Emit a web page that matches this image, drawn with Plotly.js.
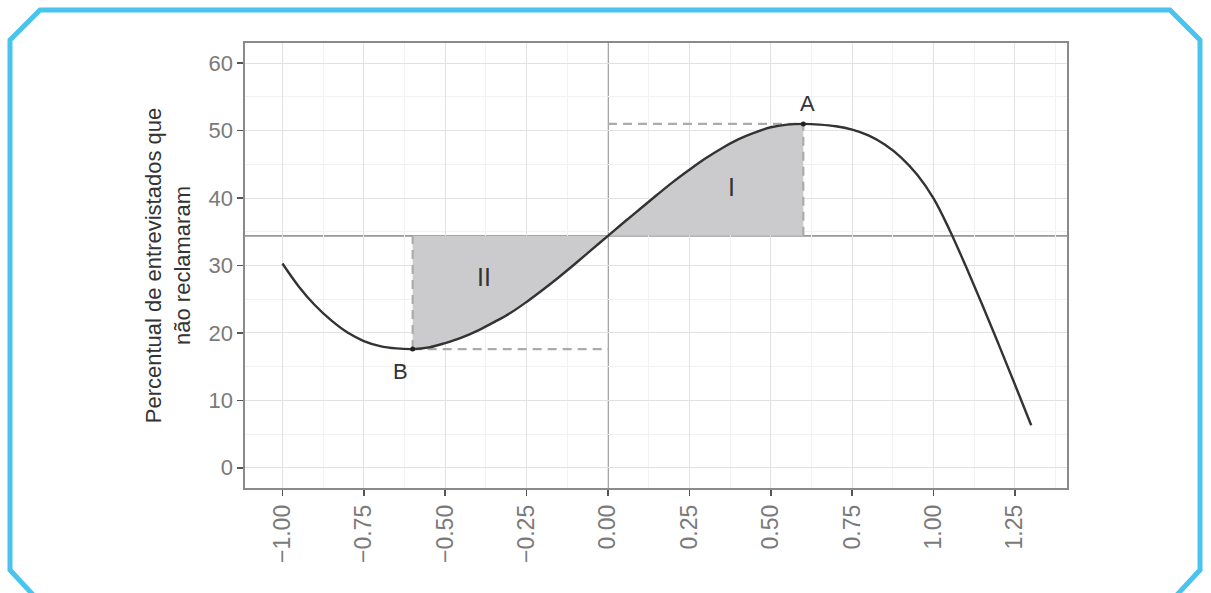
<!DOCTYPE html>
<html>
<head>
<meta charset="utf-8">
<script src="https://cdn.plot.ly/plotly-3.0.1.min.js"></script>
<style>
html,body{margin:0;padding:0;background:#fff;}
#graph{width:1211px;height:593px;}
</style>
</head>
<body>
<div id="graph"></div>
<script>
// curve (every 0.05)
let curveX = [-1.00,-0.95,-0.90,-0.85,-0.80,-0.75,-0.70,-0.65,-0.60,
  -0.55,-0.50,-0.45,-0.40,-0.35,-0.30,-0.25,-0.20,-0.15,-0.10,-0.05,0.00,
  0.05,0.10,0.15,0.20,0.25,0.30,0.35,0.40,0.45,0.50,0.55,0.60,
  0.65,0.70,0.75,0.80,0.85,0.90,0.95,1.00,1.05,1.10,1.15,1.20,1.25,1.30];
let curveY = [30.3,26.9,24.1,21.85,20.05,18.8,18.05,17.7,17.6,
  17.85,18.5,19.3,20.35,21.6,22.95,24.6,26.4,28.3,30.3,32.35,34.4,
  36.45,38.45,40.45,42.4,44.2,45.9,47.4,48.7,49.7,50.5,50.9,51.0,
  50.9,50.65,50.15,49.3,47.95,46.05,43.45,39.95,35.2,29.8,24.15,18.3,12.35,6.3];

let base = 34.4;          // value at x = 0
let pointA = [0.6, 51.0];
let pointB = [-0.6, 17.6];

let xTicks = [-1,-0.75,-0.5,-0.25,0,0.25,0.5,0.75,1,1.25];
let xTickText = ['\u22121.00','\u22120.75','\u22120.50','\u22120.25','0.00','0.25','0.50','0.75','1.00','1.25'];
let yTicks = [0,10,20,30,40,50,60];

// shaded regions built from the curve
function region(x0, x1){
    let xs = [], ys = [];
    for(let i=0;i<curveX.length;i++){
        if(curveX[i] >= x0-1e-9 && curveX[i] <= x1+1e-9){
            xs.push(curveX[i]);
            ys.push(curveY[i]);
        }
    }
    xs.push(x1); ys.push(base);
    xs.push(x0); ys.push(base);
    return {x:xs, y:ys};
}
let regI = region(0, pointA[0]);
let regII = region(pointB[0], 0);

let dashGray = {color:'#ababab', width:2.2, dash:'9px,6px'};

let traces = [
{
x:regI.x, y:regI.y, mode:'lines', fill:'toself',
fillcolor:'#cbcbcd', line:{width:0}, hoverinfo:'skip'
},
{
x:regII.x, y:regII.y, mode:'lines', fill:'toself',
fillcolor:'#cbcbcd', line:{width:0}, hoverinfo:'skip'
},
{
x:[0, pointA[0]], y:[pointA[1], pointA[1]], mode:'lines', line:dashGray
},
{
x:[pointA[0], pointA[0]], y:[base, pointA[1]], mode:'lines', line:dashGray
},
{
x:[pointB[0], 0], y:[pointB[1], pointB[1]], mode:'lines', line:dashGray
},
{
x:[pointB[0], pointB[0]], y:[pointB[1], base], mode:'lines', line:dashGray
},
{
x:curveX, y:curveY, mode:'lines',
line:{color:'#333333', width:2.4, shape:'spline', smoothing:1}
},
{
x:[pointA[0], pointB[0]], y:[pointA[1], pointB[1]], mode:'markers',
marker:{color:'#222', size:5}
}
];

// cyan frame, pixel -> paper
const L = 245, R = 1067, T = 43, B = 488;
const px = X => (X - L) / (R - L);
const py = Y => (B - Y) / (B - T);
let framePts = [[36,598],[10,570],[10,40],[40,10],[1170,10],[1200,40],[1200,570],[1174,598]];
let framePath = framePts.map((p,i)=>(i?'L ':'M ')+px(p[0])+' '+py(p[1])).join(' ');

let labelFont = {family:'Liberation Sans, Arial, sans-serif', color:'#333'};

let layout = {
width:1211, height:593,
paper_bgcolor:'#ffffff', plot_bgcolor:'#ffffff',
showlegend:false,
margin:{l:L, r:1211-R, t:T, b:593-B},
font:{family:'Liberation Sans, Arial, sans-serif'},
xaxis:{
range:[-1.115, 1.41],
tickvals:xTicks, ticktext:xTickText,
tickangle:-90,
tickfont:{size:23, color:'#7a7a7a'},
ticks:'outside', ticklen:6, tickwidth:1.5, tickcolor:'#555',
showgrid:true, gridcolor:'#e2e2e2', gridwidth:1,
minor:{dtick:0.125, tick0:0, showgrid:true, gridcolor:'#f1f1f1', gridwidth:1},
zeroline:false,
showline:true, mirror:true, linecolor:'#8a8a8a', linewidth:1.6
},
yaxis:{
range:[-3, 63],
tickvals:yTicks,
tickfont:{size:22, color:'#7a7a7a'},
ticks:'outside', ticklen:6, tickwidth:1.5, tickcolor:'#555',
showgrid:true, gridcolor:'#e2e2e2', gridwidth:1,
minor:{dtick:5, tick0:0, showgrid:true, gridcolor:'#f1f1f1', gridwidth:1},
zeroline:false,
showline:true, mirror:true, linecolor:'#8a8a8a', linewidth:1.6,
title:{
text:'Percentual de entrevistados que<br>não reclamaram',
font:{size:22, color:'#333'},
standoff:12
}
},
shapes:[
{type:'line', xref:'paper', yref:'y', x0:0, x1:1, y0:base, y1:base,
 line:{color:'#999', width:1.8}, layer:'below'},
{type:'line', xref:'x', yref:'paper', x0:0, x1:0, y0:0, y1:1,
 line:{color:'#999', width:1.8}, layer:'below'},
{type:'path', xref:'paper', yref:'paper', path:framePath,
 line:{color:'#48c4ee', width:5}}
],
annotations:[
{x:pointA[0], y:pointA[1], xref:'x', yref:'y', text:'A', showarrow:false,
 yshift:20, xshift:4, font:Object.assign({size:22}, labelFont)},
{x:pointB[0], y:pointB[1], xref:'x', yref:'y', text:'B', showarrow:false,
 yshift:-22, xshift:-12, font:Object.assign({size:22}, labelFont)},
{x:0.38, y:41.6, xref:'x', yref:'y', text:'I', showarrow:false,
 font:Object.assign({size:25}, labelFont)},
{x:-0.38, y:28.3, xref:'x', yref:'y', text:'II', showarrow:false,
 font:Object.assign({size:25}, labelFont)}
]
};

Plotly.newPlot('graph', traces, layout, {staticPlot:true});
</script>
</body>
</html>
